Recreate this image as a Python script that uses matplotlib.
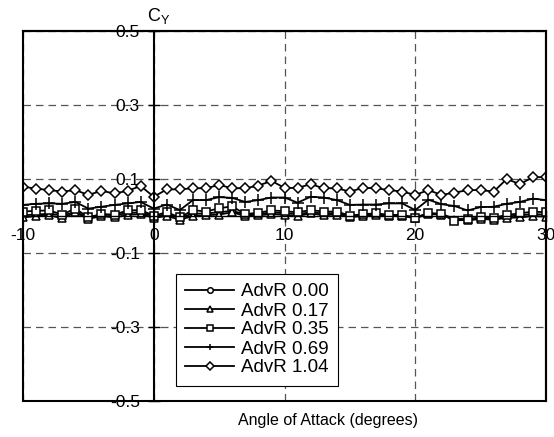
import numpy as np
import matplotlib.pyplot as plt
from matplotlib.patches import Rectangle

plt.rcParams['font.family'] = ['Liberation Sans', 'DejaVu Sans']
plt.rcParams['axes.unicode_minus'] = False

# angle of attack, degrees
alpha = list(range(-10, 31))

# side force coefficient C_Y for each advance ratio
cy_000 = [0.002, 0.004, 0.006, 0.002, 0.010, -0.003, 0.004, 0.002, 0.008, 0.010,
          -0.001, 0.004, -0.004, 0.006, 0.007, 0.010, 0.014, 0.004, 0.006, 0.009,
          0.008, 0.005, 0.010, 0.007, 0.008, 0.000, 0.003, 0.005, 0.002, 0.002,
          -0.004, 0.007, 0.006, -0.008, -0.008, -0.005, -0.006, -0.002, 0.002, 0.005,
          0.004]
cy_017 = [-0.004, 0.000, 0.002, -0.006, 0.010, -0.008, 0.000, -0.004, 0.003, 0.005,
          -0.005, 0.000, -0.010, 0.000, 0.002, 0.004, 0.010, 0.000, 0.002, 0.005,
          0.003, 0.000, 0.007, 0.002, 0.004, -0.003, 0.000, 0.002, 0.000, 0.000,
          -0.006, 0.005, 0.004, -0.010, -0.012, -0.008, -0.010, -0.005, -0.004, 0.000,
          -0.002]
cy_035 = [0.012, 0.014, 0.015, 0.004, 0.020, -0.004, 0.005, 0.004, 0.015, 0.016,
          0.001, 0.010, -0.004, 0.016, 0.012, 0.021, 0.026, 0.005, 0.009, 0.015,
          0.013, 0.010, 0.016, 0.012, 0.012, 0.001, 0.005, 0.007, 0.003, 0.003,
          -0.005, 0.008, 0.005, -0.013, -0.009, -0.004, -0.005, 0.003, 0.007, 0.012,
          0.010]
cy_069 = [0.030, 0.033, 0.034, 0.033, 0.038, 0.020, 0.025, 0.030, 0.034, 0.038,
          0.020, 0.031, 0.016, 0.043, 0.043, 0.051, 0.049, 0.038, 0.043, 0.050,
          0.050, 0.036, 0.052, 0.050, 0.043, 0.030, 0.031, 0.031, 0.034, 0.034,
          0.016, 0.044, 0.032, 0.027, 0.015, 0.024, 0.025, 0.033, 0.038, 0.047,
          0.043]
cy_104 = [0.079, 0.074, 0.070, 0.066, 0.070, 0.057, 0.068, 0.061, 0.068, 0.081,
          0.052, 0.072, 0.072, 0.075, 0.075, 0.084, 0.075, 0.075, 0.082, 0.095,
          0.076, 0.076, 0.086, 0.075, 0.075, 0.066, 0.076, 0.075, 0.070, 0.066,
          0.057, 0.070, 0.057, 0.063, 0.070, 0.070, 0.066, 0.100, 0.086, 0.105,
          0.105]

labels = ['AdvR 0.00', 'AdvR 0.17', 'AdvR 0.35', 'AdvR 0.69', 'AdvR 1.04']
series = [cy_000, cy_017, cy_035, cy_069, cy_104]
markers = ['o', '^', 's', '+', 'D']
msizes = [4, 5.5, 5.5, 8, 5.5]

fig = plt.figure(figsize=(5.54, 4.37), dpi=100)
ax = fig.add_axes([23/554, 36/437, 523/554, 370/437])

for y, lab, m, ms in zip(series, labels, markers, msizes):
    ax.plot(alpha, y, color='black', lw=1.3, marker=m, markersize=ms,
            markerfacecolor='white', markeredgecolor='black', markeredgewidth=1.1,
            label=lab)

ax.set_xlim(-10, 30)
ax.set_ylim(-0.5, 0.5)
ax.set_xticks([-10, 0, 10, 20, 30])
ax.set_yticks([-0.5, -0.3, -0.1, 0.1, 0.3, 0.5])
ax.set_yticklabels(['-0.5', '-0.3', '-0.1', '0.1', '0.3', '0.5'])
ax.grid(True, linestyle=(0, (6, 4)), color='#555555', lw=0.9)

# axes cross at the origin, plus a box around the plot area
ax.spines['left'].set_position(('data', 0))
ax.spines['bottom'].set_position(('data', 0))
ax.spines['left'].set_linewidth(1.5)
ax.spines['bottom'].set_linewidth(1.0)
ax.spines['top'].set_linewidth(1.5)
ax.spines['right'].set_linewidth(1.5)
ax.add_patch(Rectangle((0, 0), 1, 1, transform=ax.transAxes, fill=False,
                       lw=1.5, edgecolor='black', clip_on=False, zorder=5))
ax.xaxis.set_ticks_position('bottom')
ax.yaxis.set_ticks_position('left')
ax.tick_params(axis='both', direction='inout', length=8, width=1, labelsize=12.5)
ax.tick_params(axis='y', pad=6)
ax.tick_params(axis='x', pad=5)

ax.text(-0.55, 0.527, r'$\mathregular{C_Y}$', fontsize=13, ha='left', va='baseline')
fig.text(328/554, 1 - 420/437, 'Angle of Attack (degrees)', fontsize=11.5,
         ha='center', va='center')

leg = ax.legend(loc='upper left', bbox_to_anchor=(153/523, 127/370),
                fontsize=13.5, frameon=True, fancybox=False,
                edgecolor='black', framealpha=1, handlelength=2.6,
                labelspacing=0.1, borderpad=0.5, handletextpad=0.35,
                borderaxespad=0)
leg.get_frame().set_linewidth(0.8)
for h in leg.legend_handles:
    h.set_markersize(4)

fig.savefig('out.png', dpi=100)
